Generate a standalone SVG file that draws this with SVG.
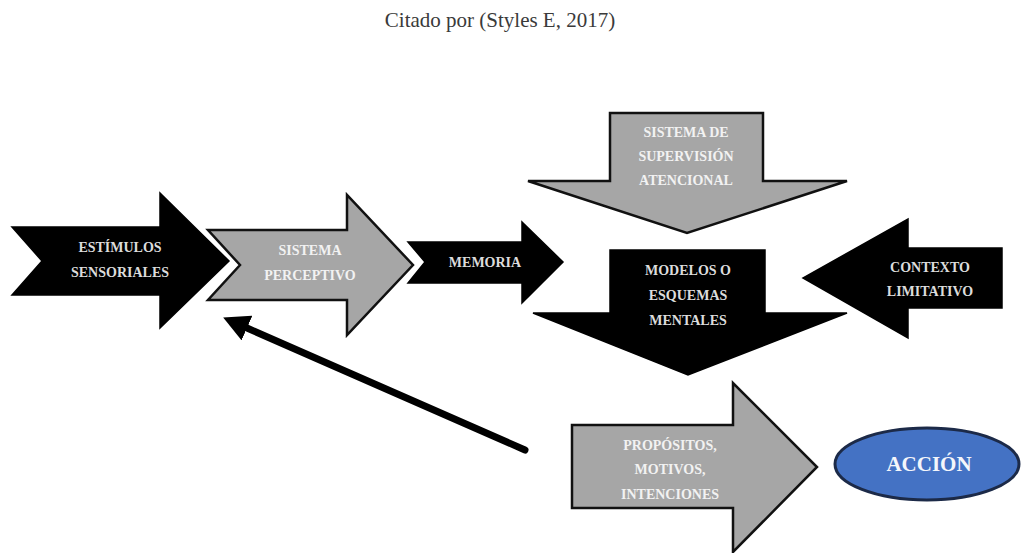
<svg xmlns="http://www.w3.org/2000/svg" width="1023" height="553" viewBox="0 0 1023 553">
  <style>
    .title { font-family: "Liberation Serif", "Times New Roman", serif; font-size: 21px; fill: #3a3a3a; text-anchor: middle; }
    .blk { fill: #000000; stroke: #000000; stroke-width: 1.5; stroke-linejoin: miter; }
    .gry { fill: #a6a6a6; stroke: #111111; stroke-width: 2.5; stroke-linejoin: miter; }
    .lbl { font-family: "Liberation Serif", "Times New Roman", serif; font-size: 14px; font-weight: bold; text-anchor: middle; }
    .onblk { fill: #dcdcdc; }
    .ongry { fill: #f2f2f2; }
    .act { font-family: "Liberation Serif", "Times New Roman", serif; font-size: 21px; font-weight: bold; fill: #f4f6fb; text-anchor: middle; }
  </style>
  <defs>
    <marker id="head" viewBox="0 0 10 10" refX="0" refY="5" markerUnits="userSpaceOnUse" markerWidth="26" markerHeight="27" orient="auto" preserveAspectRatio="none">
      <path d="M0,0 L10,5 L0,10 z" fill="#000000"/>
    </marker>
  </defs>
  <rect width="1023" height="553" fill="#ffffff"/>
  <text class="title" x="500" y="27">Citado por (Styles E, 2017)</text>

  <g id="estimulos">
    <polygon class="blk" points="12,227 160,227 160,193 229,261 160,328 160,295 12,295 42,261"/>
    <text class="lbl onblk" x="120" y="252">ESTÍMULOS</text>
    <text class="lbl onblk" x="120" y="277">SENSORIALES</text>
  </g>

  <g id="perceptivo">
    <polygon class="gry" points="208,230 347,230 347,195 413,265 347,335 347,300 208,300 240,265"/>
    <text class="lbl ongry" x="310" y="255">SISTEMA</text>
    <text class="lbl ongry" x="310" y="280">PERCEPTIVO</text>
  </g>

  <g id="memoria">
    <polygon class="blk" points="408,242 522,242 522,222 563,262 522,303 522,283 408,283 425,262"/>
    <text class="lbl onblk" x="485" y="267">MEMORIA</text>
  </g>

  <g id="supervision">
    <polygon class="gry" points="610,113 763,113 763,181 847,181 687,233 528,181 610,181"/>
    <text class="lbl ongry" x="686" y="137">SISTEMA DE</text>
    <text class="lbl ongry" x="686" y="161">SUPERVISIÓN</text>
    <text class="lbl ongry" x="686" y="185">ATENCIONAL</text>
  </g>

  <g id="modelos">
    <polygon class="blk" points="610,250 765,250 765,313 847,313 688,375 533,313 610,313"/>
    <text class="lbl onblk" x="688" y="275">MODELOS O</text>
    <text class="lbl onblk" x="688" y="300">ESQUEMAS</text>
    <text class="lbl onblk" x="688" y="325">MENTALES</text>
  </g>

  <g id="contexto">
    <polygon class="blk" points="1002,248 908,248 908,219 803,278 908,338 908,308 1002,308"/>
    <text class="lbl onblk" x="930" y="272">CONTEXTO</text>
    <text class="lbl onblk" x="930" y="296">LIMITATIVO</text>
  </g>

  <g id="propositos">
    <polygon class="gry" points="572,425 733,425 733,383 817,467 733,552 733,508 572,508"/>
    <text class="lbl ongry" x="670" y="450">PROPÓSITOS,</text>
    <text class="lbl ongry" x="670" y="474">MOTIVOS,</text>
    <text class="lbl ongry" x="670" y="499">INTENCIONES</text>
  </g>

  <g id="accion">
    <ellipse cx="927" cy="464" rx="92" ry="36" fill="#4472c4" stroke="#1c2a48" stroke-width="3"/>
    <text class="act" x="929" y="471">ACCIÓN</text>
  </g>

  <g id="connectors">
    <line x1="525" y1="450" x2="247" y2="328" stroke="#000000" stroke-width="7" stroke-linecap="round" marker-end="url(#head)"/>
  </g>
</svg>
